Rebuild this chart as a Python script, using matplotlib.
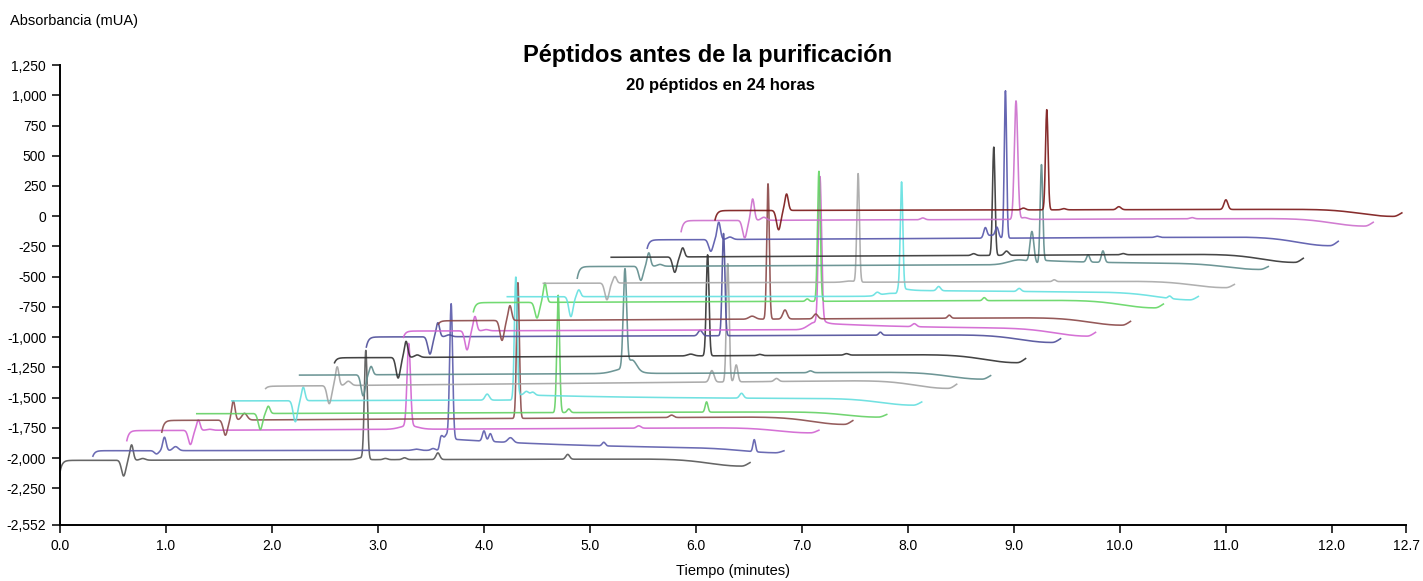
import numpy as np
import matplotlib
matplotlib.use("Agg")
import matplotlib.pyplot as plt

plt.rcParams["font.family"] = ["Liberation Sans", "DejaVu Sans"]

title = "Péptidos antes de la purificación"
subtitle = "20 péptidos en 24 horas"
x_label = "Tiempo (minutes)"
y_label = "Absorbancia (mUA)"

x_ticks = [0.0, 1.0, 2.0, 3.0, 4.0, 5.0, 6.0, 7.0, 8.0, 9.0, 10.0, 11.0, 12.0, 12.7]
y_ticks = [-2552, -2250, -2000, -1750, -1500, -1250, -1000, -750, -500, -250,
           0, 250, 500, 750, 1000, 1250]

# one entry per chromatogram, bottom (first run) to top (last run)
trace_colors = ["#555555", "#5b5bab", "#d163d1", "#8a4b4b", "#63d063", "#63dede",
                "#a3a3a3", "#5e8b8b", "#2f2f2f", "#4d4d99", "#d163d1", "#8a4747",
                "#63d663", "#63e0e0", "#a8a8a8", "#5e8b8b", "#333333", "#5555aa",
                "#cc6ecc", "#7a1616"]
starts = [0.00, 0.31, 0.63, 0.96, 1.29, 1.62, 1.94, 2.26, 2.59, 2.89,
          3.24, 3.57, 3.90, 4.22, 4.56, 4.88, 5.20, 5.54, 5.86, 6.18]
ends = [6.51, 6.83, 7.16, 7.48, 7.80, 8.13, 8.46, 8.78, 9.11, 9.44,
        9.77, 10.10, 10.41, 10.74, 11.08, 11.40, 11.73, 12.06, 12.39, 12.66]
base_start = [-2018, -1938, -1772, -1688, -1632, -1526, -1405, -1313, -1170, -998,
              -949, -864, -714, -665, -554, -416, -339, -195, -36, 47]
base_end = [-2005, -1932, -1745, -1655, -1615, -1510, -1352, -1286, -1140, -978,
            -930, -835, -692, -660, -535, -392, -311, -168, -16, 59]
end_sag = [60, 35, 45, 65, 45, 55, 70, 60, 70, 65,
           65, 65, 65, 60, 55, 50, 70, 75, 65, 60]
start_hook = [95, 45, 83, 97, 0, 0, 19, 0, 41, 83,
              52, 27, 75, 0, 0, 96, 0, 69, 91, 77]
# injection disturbance shortly after each start
artifact_dip = [130, 27, 117, 125, 132, 174, 149, 174, 170, 143,
                157, 165, 129, 165, 138, 116, 127, 97, 145, 160]
artifact_peak = [127, 111, 85, 159, 60, 111, 155, 69, 133, 116,
                 119, 122, 160, 56, 54, 111, 75, 143, 177, 136]
artifact_bump = [14, 33, 8, 55, 0, 0, 35, 0, 20, 15,
                 10, 0, 0, 0, 0, 15, 0, 20, 25, 0]

peak_times = [
    [2.84, 2.885, 3.07, 3.25, 3.565, 4.79],
    [3.36, 3.52, 3.60, 3.645, 3.69, 4.00, 4.06, 4.25, 5.13, 6.55],
    [3.29, 3.29, 5.46],
    [4.32, 5.77],
    [4.70, 4.80, 6.10],
    [4.03, 4.30, 4.40, 4.46, 6.43],
    [6.15, 6.30, 6.38, 6.76],
    [5.33, 5.33, 5.40, 7.08],
    [5.95, 6.11, 6.60, 7.42],
    [6.04, 6.26, 7.74],
    [7.12, 7.17, 8.06],
    [6.53, 6.68, 6.84, 7.13, 8.39],
    [7.05, 7.16, 8.72],
    [7.71, 7.85, 7.94, 8.29, 9.05, 10.47],
    [7.45, 7.53, 9.38],
    [9.05, 9.17, 9.26, 9.70, 9.84],
    [8.62, 8.81, 8.93, 10.03],
    [8.73, 8.79, 8.84, 8.92, 10.35],
    [8.14, 9.02, 9.10, 10.68],
    [9.09, 9.31, 9.47, 9.99, 11.00],
]
peak_heights = [
    [15, 895, 10, 15, 55, 40],
    [10, 15, 25, 30, 1120, 85, 65, 40, 30, 100],
    [30, 680, 20],
    [1125, 20],
    [970, 30, 85],
    [50, 975, 30, 25, 40],
    [95, 980, 140, 25],
    [40, 810, 80, 15],
    [15, 835, 10, 12],
    [45, 845, 25],
    [60, 1170, 25],
    [25, 1120, 75, 40, 25],
    [20, 1075, 25],
    [25, 25, 880, 35, 25, 20],
    [10, 895, 15],
    [40, 255, 790, 60, 95],
    [15, 895, 35, 10],
    [80, 25, 80, 1220, 10],
    [15, 980, 15, 10],
    [15, 830, 10, 25, 80],
]
peak_widths = [
    [0.04, 0.014, 0.02, 0.02, 0.018, 0.018],
    [0.03, 0.02, 0.015, 0.012, 0.014, 0.015, 0.015, 0.025, 0.015, 0.012],
    [0.08, 0.016, 0.02],
    [0.013, 0.02],
    [0.013, 0.015, 0.013],
    [0.02, 0.013, 0.02, 0.02, 0.018],
    [0.02, 0.013, 0.015, 0.02],
    [0.10, 0.016, 0.04, 0.02],
    [0.03, 0.013, 0.02, 0.02],
    [0.02, 0.013, 0.015],
    [0.06, 0.015, 0.02],
    [0.03, 0.012, 0.02, 0.02, 0.015],
    [0.015, 0.013, 0.015],
    [0.02, 0.10, 0.012, 0.018, 0.018, 0.015],
    [0.05, 0.012, 0.015],
    [0.10, 0.018, 0.012, 0.015, 0.015],
    [0.02, 0.012, 0.02, 0.02],
    [0.015, 0.04, 0.015, 0.011, 0.02],
    [0.02, 0.016, 0.03, 0.02],
    [0.02, 0.012, 0.02, 0.02, 0.018],
]
# raised baseline after some big peaks: onset time, height, decay (min)
tail_times = [[], [3.58], [], [], [], [4.28], [], [], [], [],
              [7.15], [], [], [7.90], [], [9.24], [], [], [], []]
tail_heights = [[], [100], [], [], [], [45], [], [], [], [],
                [55], [], [], [50], [], [35], [], [], [], []]
tail_decays = [[], [1.5], [], [], [], [1.5], [], [], [], [],
               [1.0], [], [], [5.0], [], [0.8], [], [], [], []]


def gauss(t, center, width):
    return np.exp(-0.5 * ((t - center) / width) ** 2)


def trace_curve(i):
    s, e = starts[i], ends[i]
    t = np.linspace(s, e, 3000)
    y = base_start[i] + (base_end[i] - base_start[i]) * (t - s) / (e - s)
    y = y - start_hook[i] * np.exp(-(t - s) / 0.02)
    c = e - 0.08
    sig = np.where(t < c, 0.3, 0.07)
    y = y - end_sag[i] * np.exp(-0.5 * ((t - c) / sig) ** 2)
    y = y - artifact_dip[i] * gauss(t, s + 0.60, 0.02)
    y = y + artifact_peak[i] * gauss(t, s + 0.675, 0.016)
    y = y + artifact_bump[i] * gauss(t, s + 0.78, 0.025)
    for tc, h, w in zip(peak_times[i], peak_heights[i], peak_widths[i]):
        y = y + h * gauss(t, tc, w)
    for t0, h, tau in zip(tail_times[i], tail_heights[i], tail_decays[i]):
        onset = 0.5 * (1 + np.tanh((t - t0) / 0.01))
        y = y + h * onset * np.exp(-np.clip(t - t0, 0, None) / tau)
    return t, y


fig = plt.figure(figsize=(14.23, 5.81), dpi=100)
ax = fig.add_axes([0.0422, 0.0964, 0.9459, 0.7917])

for i in range(len(starts)):
    t, y = trace_curve(i)
    ax.plot(t, y, color=trace_colors[i], linewidth=1.15, alpha=0.9,
            solid_joinstyle="round")

ax.set_xlim(0, 12.7)
ax.set_ylim(-2552, 1250)
ax.set_xticks(x_ticks)
ax.set_xticklabels(["%.1f" % v for v in x_ticks])
ax.set_yticks(y_ticks)
ax.set_yticklabels(["{:,}".format(v) for v in y_ticks])
ax.tick_params(direction="out", length=6, width=1.1, labelsize=10, colors="black", pad=4)
for side in ["top", "right"]:
    ax.spines[side].set_visible(False)
for side in ["left", "bottom"]:
    ax.spines[side].set_linewidth(1.4)

fig.text(0.497, 0.905, title, ha="center", va="center", fontsize=17, fontweight="bold")
fig.text(0.506, 0.853, subtitle, ha="center", va="center", fontsize=12, fontweight="bold")
fig.text(0.007, 0.963, y_label, ha="left", va="center", fontsize=10.5)
fig.text(0.515, 0.017, x_label, ha="center", va="center", fontsize=10.5)

fig.savefig("out.png", dpi=100)
